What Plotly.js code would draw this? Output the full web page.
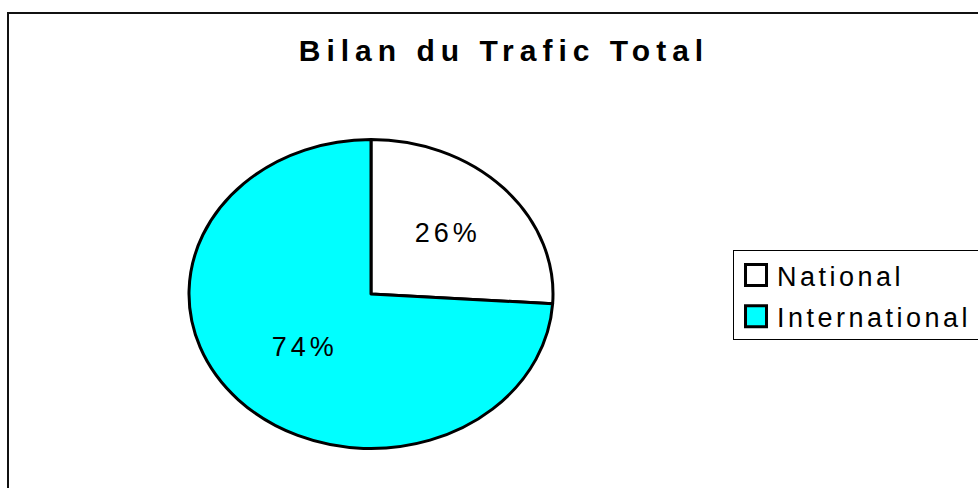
<!DOCTYPE html>
<html>
<head>
<meta charset="utf-8">
<script src="https://cdn.plot.ly/plotly-3.0.1.min.js"></script>
<style>
  html, body { margin: 0; padding: 0; background: #fff; }
  #wrap { position: relative; width: 978px; height: 488px; overflow: hidden; }
  #chart { width: 978px; height: 488px; }
  #frame { position: absolute; left: 7px; top: 12px; width: 1000px; height: 520px;
           border: 2px solid #111; pointer-events: none; }
</style>
</head>
<body>
<div id="wrap">
  <div id="chart"></div>
  <div id="frame"></div>
</div>
<script>
const categories = ['National', 'International'];
const values = [26, 74];
const sliceColors = ['#FFFFFF', '#00FFFF'];
const chartTitle = 'Bilan du Trafic Total';

const FONT = 'Liberation Sans, Arial, sans-serif';
const Y_SQUASH = 0.849;

const data = [{
  type: 'pie',
  labels: categories,
  values: values,
  sort: false,
  direction: 'clockwise',
  rotation: 0,
  marker: { colors: sliceColors, line: { color: '#000', width: 3 } },
  textinfo: 'percent',
  textposition: 'inside',
  insidetextorientation: 'horizontal',
  insidetextfont: { family: FONT, size: 27, color: '#000' },
  domain: { x: [0.19325, 0.56544], y: [0.02459, 0.77049] },
  hoverinfo: 'none'
}];

const layout = {
  width: 978, height: 488,
  margin: { l: 0, r: 0, t: 0, b: 0 },
  paper_bgcolor: '#fff',
  font: { family: FONT, color: '#000' },
  title: {
    text: chartTitle,
    font: { family: FONT, size: 30, weight: 'bold', color: '#000' },
    x: 0.5153, xanchor: 'center', xref: 'paper',
    y: 0.8975, yanchor: 'middle', yref: 'container'
  },
  showlegend: true,
  legend: {
    x: 0.7495, y: 0.4877, xanchor: 'left', yanchor: 'top',
    bgcolor: '#fff', bordercolor: '#000', borderwidth: 1,
    font: { family: FONT, size: 27, color: '#000' },
    itemwidth: 30
  }
};

const gd = document.getElementById('chart');
Plotly.newPlot(gd, data, layout, { staticPlot: true, displayModeBar: false }).then(function () {
  const cd0 = gd.calcdata[0][0];
  const cy = cd0.cy;
  const k = Y_SQUASH;
  // squash the pie vertically into an ellipse
  gd.querySelectorAll('.pielayer path.surface').forEach(function (p) {
    p.setAttribute('transform', 'translate(0,' + (cy * (1 - k)) + ') scale(1,' + k + ')');
    p.style.vectorEffect = 'non-scaling-stroke';
  });
  gd.querySelectorAll('.pielayer g.slicetext').forEach(function (g) {
    const t = g.querySelector('text');
    if (!t) return;
    t.style.letterSpacing = '4px';
    const r = t.getBoundingClientRect();
    const svgR = gd.querySelector('svg.main-svg').getBoundingClientRect();
    const ycAbs = r.top - svgR.top + r.height / 2;
    const dy = (k - 1) * (ycAbs - cy);
    g.setAttribute('transform', 'translate(0,' + dy + ')');
  });
  gd.querySelectorAll('.gtitle').forEach(function (t) { t.style.letterSpacing = '6px'; });

  // legend: no clipping, wider box, bigger swatches, more item spacing
  const leg = gd.querySelector('.legend');
  if (leg) {
    leg.querySelectorAll('[clip-path]').forEach(function (el) { el.removeAttribute('clip-path'); });
    leg.querySelectorAll('.legendtext').forEach(function (t) {
      t.style.letterSpacing = '3.5px';
      const tr = t.getAttribute('transform') || '';
      t.setAttribute('transform', tr + ' translate(3,0)');
    });
    leg.querySelectorAll('.legendpoints path').forEach(function (p) {
      const b = p.getBBox();
      const cx = b.x + b.width / 2, cyy = b.y + b.height / 2;
      p.setAttribute('transform', 'translate(' + (cx + 22) + ',' + cyy + ') scale(1.75) translate(' + (-cx) + ',' + (-cyy) + ')');
      p.style.vectorEffect = 'non-scaling-stroke';
      p.style.strokeWidth = '3px';
    });
    const items = leg.querySelectorAll('g.traces');
    const extra = 3;
    items.forEach(function (it, i) {
      if (i === 0) return;
      const tr = it.getAttribute('transform') || '';
      it.setAttribute('transform', tr + ' translate(0,' + (extra * i) + ')');
    });
    const bg = leg.querySelector('rect.bg');
    if (bg) {
      bg.setAttribute('width', 400);
      bg.setAttribute('height', parseFloat(bg.getAttribute('height')) + 1);
    }
  }
});
</script>
</body>
</html>
